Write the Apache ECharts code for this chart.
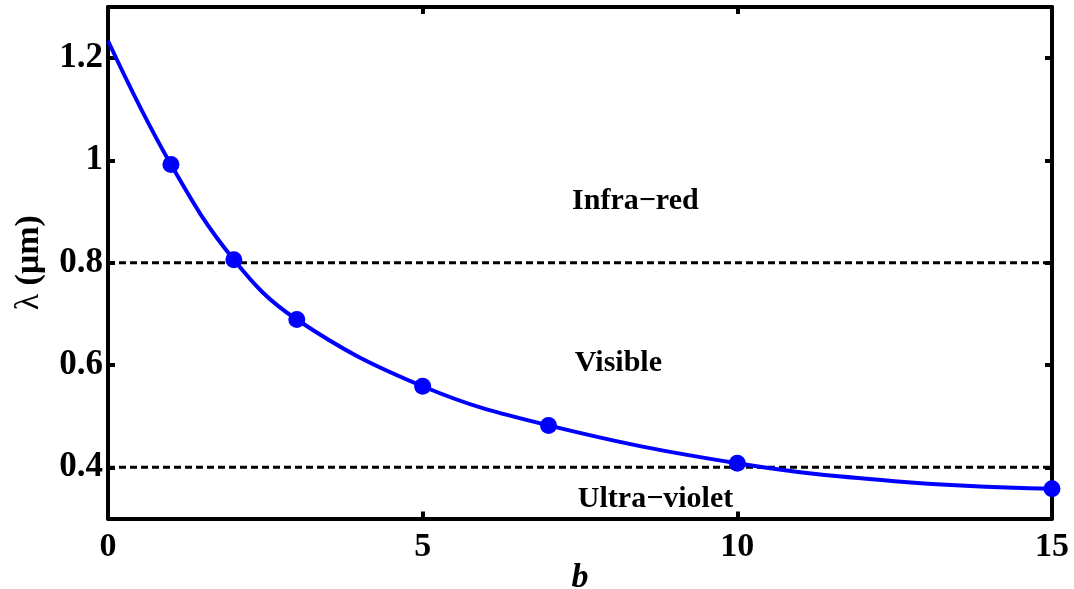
<!DOCTYPE html>
<html>
<head>
<meta charset="utf-8">
<script src="https://cdn.jsdelivr.net/npm/echarts@6/dist/echarts.min.js"></script>
<style>
html,body{margin:0;padding:0;background:#fff;}
#chart{width:1074px;height:589px;}
</style>
</head>
<body>
<div id="chart"></div>
<script>
// Marker points (b, lambda in um)
const markerB = [1, 2, 3, 5, 7, 10, 15];
const markerLambda = [0.992, 0.806, 0.689, 0.5585, 0.482, 0.408, 0.358];
// Curve points
const curveB = [0, 1, 2, 3, 5, 7, 10, 12.5, 15];
const curveLambda = [1.234, 0.992, 0.806, 0.689, 0.5585, 0.482, 0.408, 0.373, 0.358];
// Region boundaries
const boundaries = [0.4, 0.8];
// Region labels
const regionNames = ['Infra\u2212red', 'Visible', 'Ultra\u2212violet'];
const regionB = [8.38, 8.11, 8.70];
const regionLambda = [0.921, 0.603, 0.338];
// Ticks
const xTicks = [0, 5, 10, 15];
const yTicks = [0.4, 0.6, 0.8, 1, 1.2];

const FONT = '"Liberation Serif", "Times New Roman", serif';

const chart = echarts.init(document.getElementById('chart'));

const pair = (xs, ys) => xs.map((x, i) => [x, ys[i]]);

const lineStyle = {show: true, onZero: false, lineStyle: {color: '#000', width: 4}};
const xTick = {show: true, inside: true, length: 7, customValues: xTicks, lineStyle: {color: '#000', width: 4}};
const yTick = {show: true, inside: true, length: 7, customValues: yTicks, lineStyle: {color: '#000', width: 4}};

chart.setOption({
  animation: false,
  backgroundColor: '#fff',
  grid: {left: 108, right: 22, top: 7, bottom: 70.5, containLabel: false, outerBoundsMode: 'none'},
  xAxis: [
    {
      type: 'value', min: 0, max: 15,
      name: 'b', nameLocation: 'middle', nameGap: 43, nameMoveOverlap: false,
      nameTextStyle: {fontFamily: FONT, fontSize: 34, fontWeight: 'bold', fontStyle: 'italic', color: '#000'},
      axisLine: lineStyle, axisTick: xTick,
      axisLabel: {fontFamily: FONT, fontSize: 34, fontWeight: 'bold', color: '#000', margin: 12,
        customValues: xTicks, formatter: v => String(v)},
      splitLine: {show: false}
    },
    {
      type: 'value', min: 0, max: 15, position: 'top',
      axisLine: lineStyle, axisTick: xTick, axisLabel: {show: false}, splitLine: {show: false}
    }
  ],
  yAxis: [
    {
      type: 'value', min: 0.3, max: 1.3,
      name: '{l|\u03bb} {b|(\u03bcm)}', nameLocation: 'middle', nameGap: 62, nameMoveOverlap: false,
      nameTextStyle: {fontFamily: FONT, fontSize: 34, color: '#000',
        rich: {l: {fontFamily: FONT, fontSize: 34, fontWeight: 'normal', color: '#000'},
               b: {fontFamily: FONT, fontSize: 34, fontWeight: 'bold', color: '#000'}}},
      axisLine: lineStyle, axisTick: yTick,
      axisLabel: {fontFamily: FONT, fontSize: 35, fontWeight: 'bold', color: '#000', margin: 5,
        customValues: yTicks, formatter: v => String(Math.round(v * 10) / 10)},
      splitLine: {show: false}
    },
    {
      type: 'value', min: 0.3, max: 1.3, position: 'right',
      axisLine: lineStyle, axisTick: yTick, axisLabel: {show: false}, splitLine: {show: false}
    }
  ],
  series: [
    {
      type: 'line', data: pair([0, 15], [boundaries[1], boundaries[1]]), symbol: 'none',
      lineStyle: {color: '#000', width: 3, type: [7, 4]}, z: 2
    },
    {
      type: 'line', data: pair([0, 15], [boundaries[0], boundaries[0]]), symbol: 'none',
      lineStyle: {color: '#000', width: 3, type: [7, 4]}, z: 2
    },
    {
      type: 'line', data: pair(curveB, curveLambda), smooth: 0.4, symbol: 'none',
      lineStyle: {color: '#0000ff', width: 4}, z: 3
    },
    {
      type: 'scatter', data: pair(markerB, markerLambda), symbol: 'circle', symbolSize: 17,
      itemStyle: {color: '#0000ff', opacity: 1}, z: 4, clip: false
    },
    {
      type: 'scatter', symbolSize: 0, z: 5, itemStyle: {opacity: 1},
      data: regionNames.map((n, i) => ({name: n, value: [regionB[i], regionLambda[i]]})),
      label: {show: true, position: 'inside', formatter: p => p.name, opacity: 1,
        fontFamily: FONT, fontSize: 30, fontWeight: 'bold', color: '#000'}
    }
  ]
});
</script>
</body>
</html>
